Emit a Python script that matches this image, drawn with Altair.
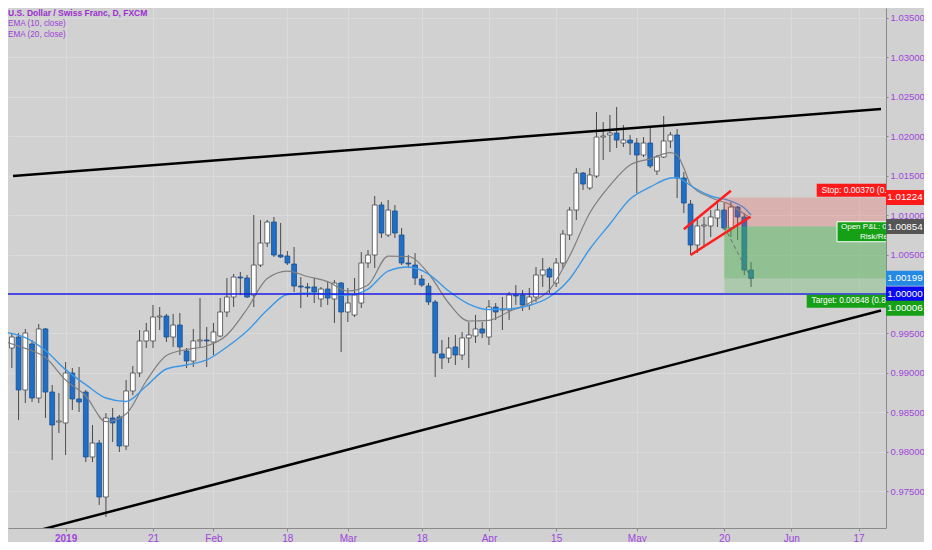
import altair as alt
import pandas as pd

# ---------------- data ----------------
bar_index = list(range(-9, 103))
open_ = [0.99303, 0.99316, 0.99455, 0.98784, 0.99367, 0.98682, 0.99557, 0.98758, 0.98378,
         0.98366, 0.98999, 0.98670, 0.98758, 0.97935, 0.98112, 0.97428, 0.98429, 0.98442, 0.98074,
         0.98771, 0.98999, 0.99405, 0.99405, 0.99709, 0.99721, 0.99455, 0.99607, 0.99278, 0.99151,
         0.99405, 0.99417, 0.99392, 0.99468, 0.99772, 0.99962, 1.00215, 1.00203, 0.99987, 1.00367,
         1.00646, 1.00912, 1.00494, 1.00481, 1.00380, 1.00101, 1.00089, 1.00089, 0.99937, 1.00063,
         0.99937, 1.00139, 0.99772, 0.99734, 0.99886, 1.00393, 1.00494, 1.01128, 1.00748, 1.01052,
         1.00748, 1.00393, 1.00367, 1.00190, 1.00101, 0.99899, 0.99240, 0.99189, 0.99329, 0.99227,
         0.99443, 0.99468, 0.99557, 0.99455, 0.99835, 0.99797, 0.99797, 0.99987, 0.99987, 0.99861,
         0.99962, 1.00241, 1.00317, 1.00139, 1.00393, 1.00748, 1.01064, 1.01533, 1.01343, 1.01495,
         1.01989, 1.02015, 1.02040, 1.01913, 1.01951, 1.01913, 1.01761, 1.01913, 1.01558, 1.01736,
         1.01939, 1.02015, 1.01470, 1.01140, 1.00621, 1.00862, 1.00862, 1.00963, 1.01064, 1.00836,
         1.01102, 1.00976, 1.00304]
high = [0.99354, 0.99506, 0.99506, 0.99557, 0.99417, 0.99620, 0.99569, 0.98847, 0.98746,
        0.99138, 0.99062, 0.99075, 0.98784, 0.98340, 0.98150, 0.98492, 0.98556, 0.98467, 0.98910,
        0.99088, 0.99544, 0.99633, 0.99861, 0.99835, 0.99747, 0.99747, 0.99759, 0.99316, 0.99557,
        0.99949, 0.99582, 0.99633, 0.99949, 1.00203, 1.00253, 1.00279, 1.00241, 1.01001, 1.00938,
        1.00938, 1.00976, 1.00900, 1.00545, 1.00595, 1.00215, 1.00139, 1.00203, 1.00089, 1.00152,
        1.00177, 1.00152, 1.00076, 1.00203, 1.00532, 1.00557, 1.01242, 1.01166, 1.01191, 1.01128,
        1.00836, 1.00494, 1.00519, 1.00241, 1.00139, 0.99924, 0.99417, 0.99455, 0.99481, 0.99519,
        0.99645, 0.99734, 0.99645, 0.99924, 0.99886, 0.99962, 1.00025, 1.00114, 1.00051, 1.00076,
        1.00342, 1.00456, 1.00342, 1.00456, 1.00811, 1.01102, 1.01596, 1.01546, 1.01596, 1.02306,
        1.02179, 1.02268, 1.02369, 1.02141, 1.02015, 1.01977, 1.01989, 1.02116, 1.01761, 1.02255,
        1.02053, 1.02091, 1.01546, 1.01191, 1.00976, 1.00976, 1.01064, 1.01153, 1.01153, 1.01166,
        1.01115, 1.01026, 1.00405]
low = [0.99164, 0.99062, 0.98404, 0.98619, 0.98632, 0.98619, 0.98429, 0.97897, 0.98239,
       0.97960, 0.98530, 0.98505, 0.97871, 0.97871, 0.97327, 0.97175, 0.98125, 0.97998, 0.98023,
       0.98720, 0.98948, 0.99316, 0.99316, 0.99544, 0.99392, 0.99329, 0.99227, 0.99062, 0.99075,
       0.99316, 0.99075, 0.99227, 0.99455, 0.99709, 0.99835, 0.99987, 0.99949, 0.99835, 1.00342,
       1.00595, 1.00469, 1.00456, 1.00367, 1.00025, 0.99823, 0.99962, 0.99886, 0.99835, 0.99861,
       0.99633, 0.99265, 0.99645, 0.99709, 0.99823, 1.00329, 1.00329, 1.00710, 1.00722, 1.00710,
       1.00367, 1.00329, 1.00114, 1.00089, 0.99861, 0.98948, 0.99050, 0.99126, 0.99100, 0.99164,
       0.99062, 0.99379, 0.99443, 0.99354, 0.99671, 0.99544, 0.99671, 0.99861, 0.99785, 0.99797,
       0.99899, 1.00089, 1.00013, 1.00089, 1.00329, 1.00684, 1.00938, 1.01318, 1.01318, 1.01470,
       1.01698, 1.01799, 1.01850, 1.01862, 1.01761, 1.01280, 1.01736, 1.01596, 1.01508, 1.01723,
       1.01850, 1.01216, 1.01026, 1.00494, 1.00519, 1.00595, 1.00722, 1.00849, 1.00811, 1.00722,
       1.00684, 1.00241, 1.00089]
close = [0.99227, 0.99455, 0.98784, 0.99506, 0.98682, 0.99557, 0.98758, 0.98340, 0.98391,
         0.98999, 0.98670, 0.98632, 0.97935, 0.98112, 0.97428, 0.98429, 0.98366, 0.98074, 0.98771,
         0.98999, 0.99405, 0.99531, 0.99709, 0.99721, 0.99455, 0.99607, 0.99329, 0.99151, 0.99405,
         0.99417, 0.99405, 0.99519, 0.99772, 0.99962, 1.00215, 1.00203, 0.99962, 1.00367, 1.00646,
         1.00912, 1.00494, 1.00469, 1.00393, 1.00101, 1.00089, 1.00076, 1.00025, 1.00063, 0.99949,
         1.00139, 0.99772, 0.99886, 0.99987, 1.00393, 1.00494, 1.01128, 1.00773, 1.01064, 1.00773,
         1.00393, 1.00380, 1.00203, 1.00114, 0.99899, 0.99252, 0.99189, 0.99316, 0.99227, 0.99443,
         0.99481, 0.99557, 0.99506, 0.99835, 0.99772, 0.99810, 0.99987, 0.99975, 0.99861, 0.99962,
         1.00241, 1.00304, 1.00215, 1.00393, 1.00760, 1.01064, 1.01533, 1.01394, 1.01508, 1.01989,
         1.02002, 1.02040, 1.01951, 1.01951, 1.01913, 1.01761, 1.01913, 1.01622, 1.01736, 1.01939,
         1.02015, 1.01470, 1.01153, 1.00621, 1.00862, 1.00874, 1.00976, 1.01064, 1.00836, 1.01102,
         1.00976, 1.00304, 1.00199]

ema_index = [-9, -6, -3, 0, 3, 6, 9, 12, 15, 18, 21, 24, 27, 30, 33, 36, 39, 42, 45, 48, 51,
             54, 57, 60, 63, 66, 69, 72, 75, 78, 81, 84, 87, 90, 91, 92, 93, 96, 99, 101, 102]
ema10 = [0.99396, 0.99311, 0.99195, 0.98910, 0.98708, 0.98382, 0.98480, 0.98898, 0.99221, 0.99297,
         0.99341, 0.99481, 0.99810, 1.00196, 1.00291, 1.00222, 1.00157, 1.00038, 1.00114, 1.00481,
         1.00475, 1.00260, 0.99886, 0.99658, 0.99667, 0.99778, 0.99886, 1.00051, 1.00481, 1.01026,
         1.01375, 1.01634, 1.01713, 1.01792, 1.01761, 1.01596, 1.01387, 1.01223, 1.01128, 1.01014,
         1.00963]
ema20 = [0.99515, 0.99446, 0.99284, 0.99042, 0.98852, 0.98682, 0.98638, 0.98834, 0.99050, 0.99100,
         0.99164, 0.99328, 0.99531, 0.99797, 0.99994, 1.00009, 1.00000, 0.99987, 1.00063, 1.00291,
         1.00342, 1.00253, 1.00038, 0.99873, 0.99804, 0.99810, 0.99854, 0.99962, 1.00190, 1.00570,
         1.00887, 1.01204, 1.01356, 1.01470, 1.01476, 1.01432, 1.01375, 1.01242, 1.01178, 1.01090,
         1.01001]

tick_index = [0, 13, 22, 33, 42, 53, 63, 73, 85, 98, 108, 118]
tick_text = ["2019", "21", "Feb", "18", "Mar", "18", "Apr", "15", "May", "20", "Jun", "17"]
price_ticks = [0.975, 0.980, 0.985, 0.990, 0.995, 1.000, 1.005, 1.010,
               1.015, 1.020, 1.025, 1.030, 1.035]

support_level = 1.00000
entry_price = 1.00854
stop_price = 1.01224
target_price = 1.00006
last_price = 1.00199
entry_index = 98
last_index = 102

trend_names = ["upper", "upper", "lower", "lower"]
trend_x = [-7.83, 121.34, -7.83, 121.34]
trend_y = [1.01495, 1.02343, 0.96921, 0.99791]

channel_names = ["top", "top", "bottom", "bottom"]
channel_x = [92.0, 99.0, 93.0, 101.9]
channel_y = [1.00820, 1.01309, 1.00494, 1.00979]

axis_box_text = ["1.01224", "1.00854", "1.00199", "1.00000", "1.00006"]
axis_box_price = [1.01224, 1.00854, 1.00199, 1.00000, 0.99819]
axis_box_color = ["#ff1a1a", "#555555", "#2389e3", "#0a0af0", "#16a016"]

# ---------------- styling ----------------
BG = "#d1d1d1"
GRID = "#dadada"
PURPLE = "#a046dc"
FONT = "Liberation Sans, Arial, sans-serif"
X_DOMAIN = [-7.83, 121.34]
Y_DOMAIN = [0.97035, 1.03624]
W, H = 878, 520
RIGHT = 38

xs = alt.Scale(domain=X_DOMAIN, nice=False, zero=False)
ys = alt.Scale(domain=Y_DOMAIN, nice=False, zero=False)

label_expr = "".join(f"datum.value == {v} ? '{t}' : " for v, t in zip(tick_index, tick_text)) + "''"
x_axis = alt.Axis(values=tick_index, labelExpr=label_expr, title=None, grid=True,
                  gridColor=GRID, gridWidth=1, domainColor="#8a8a8a", tickColor="#8a8a8a",
                  tickSize=3, labelColor=PURPLE, labelFont=FONT, labelFontSize=10,
                  labelPadding=2, labelOverlap=False, labelFlush=False, labelBaseline="top",
                  labelFontWeight={"condition": {"test": "datum.value == 0", "value": "bold"},
                                   "value": "normal"})
# the 1.00000 tick label sits under the horizontal-line price box, so it is left blank
y_axis = alt.Axis(orient="right", values=price_ticks, title=None, grid=True,
                  labelExpr=f"datum.value == {support_level} ? '' : format(datum.value, '.5f')",
                  gridColor=GRID, gridWidth=1, domainColor="#8a8a8a", tickColor="#8a8a8a",
                  tickSize=2, labelColor=PURPLE, labelFont=FONT, labelFontSize=9.5,
                  labelPadding=2, labelOverlap=False, labelFlush=False)


def X(f):
    return alt.X(f, type="quantitative", scale=xs, axis=x_axis)


def Y(f):
    return alt.Y(f, type="quantitative", scale=ys, axis=y_axis)


candles = pd.DataFrame({"i": bar_index, "o": open_, "h": high, "l": low, "c": close})
candles["dir"] = ["up" if c >= o else "down" for o, c in zip(open_, close)]
candles["blo"] = [min(o, c) for o, c in zip(open_, close)]
candles["bhi"] = [max(o, c) for o, c in zip(open_, close)]

wicks = alt.Chart(candles).mark_rule(color="#4a4a4a", strokeWidth=1, clip=True).encode(
    x=X("i"), y=Y("l"), y2="h")
bodies = alt.Chart(candles).mark_bar(size=4.8, strokeWidth=0.8, clip=True).encode(
    x=X("i"), y=Y("blo"), y2="bhi",
    fill=alt.Fill("dir:N", scale=alt.Scale(domain=["up", "down"], range=["#ffffff", "#1f6fc6"]), legend=None),
    stroke=alt.Stroke("dir:N", scale=alt.Scale(domain=["up", "down"], range=["#4a4a4a", "#1a4f8f"]), legend=None))

ema_df = pd.DataFrame({"i": ema_index, "e10": ema10, "e20": ema20})
ema10_line = alt.Chart(ema_df).mark_line(color="#7f7f7f", strokeWidth=1.2, interpolate="monotone", clip=True).encode(
    x=X("i"), y=Y("e10"))
ema20_line = alt.Chart(ema_df).mark_line(color="#3c98e6", strokeWidth=1.4, interpolate="monotone", clip=True).encode(
    x=X("i"), y=Y("e20"))

level_rule = alt.Chart(pd.DataFrame({"p": [support_level]})).mark_rule(
    color="#1a1ae6", strokeWidth=1.5).encode(y=Y("p"))


def zone(lo, hi, color, op):
    df = pd.DataFrame({"x1": [entry_index], "x2": [125], "y1": [lo], "y2": [hi]})
    return alt.Chart(df).mark_rect(clip=True, color=color, opacity=op).encode(
        x=X("x1"), x2="x2", y=Y("y1"), y2="y2")


stop_zone = zone(entry_price, stop_price, "#f44336", 0.22)
target_zone = zone(target_price, entry_price, "#4caf50", 0.28)
open_zone = zone(last_price, entry_price, "#4caf50", 0.28)

dash_df = pd.DataFrame({"i": [entry_index, last_index], "p": [entry_price, last_price]})
dash_line = alt.Chart(dash_df).mark_line(color="#6e6e6e", strokeWidth=1, strokeDash=[4, 3], clip=True).encode(
    x=X("i"), y=Y("p"))

trend_df = pd.DataFrame({"name": trend_names, "i": trend_x, "p": trend_y})
trend_lines = alt.Chart(trend_df).mark_line(color="#000000", strokeWidth=2.5, clip=True).encode(
    x=X("i"), y=Y("p"), detail="name:N")

chan_df = pd.DataFrame({"name": channel_names, "i": channel_x, "p": channel_y})
chan_lines = alt.Chart(chan_df).mark_line(color="#ff1e1e", strokeWidth=2.5, clip=True).encode(
    x=X("i"), y=Y("p"), detail="name:N")

# labels inside the plot, cut off by the price scale as in TradingView
stop_text = f"Stop: {stop_price - entry_price:.5f} (0.37%), Amount: 3.70"
target_text = f"Target: {entry_price - target_price:.5f} (0.84%), Amount: 8.48"
pnl_text = f"Open P&L: {entry_price - last_price:.5f} (0.65%), Qty: 1"
rr_text = "Risk/Reward Ratio: 2.29"

stop_box = alt.Chart(pd.DataFrame({"p": [1.01314]})).mark_tick(
    orient="horizontal", size=160, thickness=13, color="#ff1a1a", opacity=1, clip=True).encode(
    x=alt.value(888.7), y=Y("p"))
stop_lbl = alt.Chart(pd.DataFrame({"p": [1.01314], "t": [stop_text]})).mark_text(
    align="left", baseline="middle", color="white", font=FONT, fontSize=8.5, clip=True).encode(
    x=alt.value(813.5), y=Y("p"), text="t:N")

pnl_box = alt.Chart(pd.DataFrame({"p": [1.00789]})).mark_tick(
    orient="horizontal", size=160, thickness=20, color="#16a016", opacity=1,
    stroke="#ffffff", strokeWidth=1, clip=True).encode(
    x=alt.value(909), y=Y("p"))
pnl_lbl = alt.Chart(pd.DataFrame({"p": [1.00850, 1.00722], "t": [pnl_text, rr_text],
                                  "xx": [833, 852]})).mark_text(
    align="left", baseline="middle", color="white", font=FONT, fontSize=8, clip=True).encode(
    x=alt.X("xx:Q", scale=None), y=Y("p"), text="t:N")

target_box = alt.Chart(pd.DataFrame({"p": [0.99909]})).mark_tick(
    orient="horizontal", size=160, thickness=13, color="#16a016", opacity=1, clip=True).encode(
    x=alt.value(878.7), y=Y("p"))
target_lbl = alt.Chart(pd.DataFrame({"p": [0.99909], "t": [target_text]})).mark_text(
    align="left", baseline="middle", color="white", font=FONT, fontSize=8.3, clip=True).encode(
    x=alt.value(803.5), y=Y("p"), text="t:N")

# price-scale boxes
boxes_df = pd.DataFrame({"p": axis_box_price, "t": axis_box_text, "col": axis_box_color})
axis_boxes = alt.Chart(boxes_df).mark_tick(
    orient="horizontal", size=RIGHT, thickness=15, opacity=1).encode(
    x=alt.value(W + RIGHT / 2), y=Y("p"), color=alt.Color("col:N", scale=None, legend=None))
axis_box_lbl = alt.Chart(boxes_df).mark_text(
    align="center", baseline="middle", color="white", font=FONT, fontSize=9.8).encode(
    x=alt.value(W + RIGHT / 2), y=Y("p"), text="t:N")

# legend header
head1 = alt.Chart(pd.DataFrame({"t": ["U.S. Dollar / Swiss Franc, D, FXCM"]})).mark_text(
    align="left", baseline="middle", color="#9b2fcf", font=FONT, fontSize=8.5, fontWeight="bold").encode(
    x=alt.value(0), y=alt.value(5), text="t:N")
head2 = alt.Chart(pd.DataFrame({"t": ["EMA (10, close)", "EMA (20, close)"], "yy": [16, 26.5]})).mark_text(
    align="left", baseline="middle", color="#a040d8", font=FONT, fontSize=8.2).encode(
    x=alt.value(0), y=alt.Y("yy:Q", scale=None), text="t:N")

chart = alt.layer(
    wicks, bodies, ema10_line, ema20_line, level_rule, stop_zone, target_zone, open_zone, dash_line,
    trend_lines, chan_lines, stop_box, stop_lbl, pnl_box, pnl_lbl, target_box, target_lbl,
    axis_boxes, axis_box_lbl, head1, head2
).properties(
    width=W, height=H,
    padding={"left": 0, "top": 0, "right": RIGHT, "bottom": 14},
    autosize=alt.AutoSizeParams(type="none"),
).configure(background=BG, font=FONT).configure_view(stroke=None)

chart.save("out.html", embed_options={"renderer": "svg", "actions": False})
